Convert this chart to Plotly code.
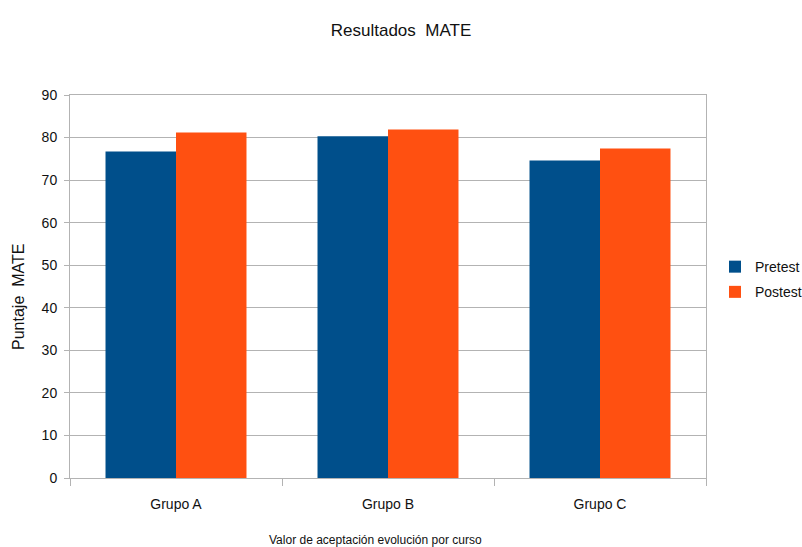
import plotly.graph_objects as go

categories = ["Grupo A", "Grupo B", "Grupo C"]
pretest = [76.7, 80.3, 74.6]
postest = [81.2, 81.9, 77.4]
series_names = ["Pretest", "Postest"]
colors = ["#004f8b", "#ff5011"]

FONT = "Liberation Sans, Arial, sans-serif"
TXT = "#111111"

fig = go.Figure()
fig.add_trace(go.Bar(name=series_names[0], x=categories, y=pretest, legendgroup="g1",
                     marker=dict(color=colors[0], line=dict(width=0))))
fig.add_trace(go.Bar(name=series_names[1], x=categories, y=postest, legendgroup="g2",
                     marker=dict(color=colors[1], line=dict(width=0))))

fig.update_layout(
    width=802, height=547,
    margin=dict(l=70, r=96, t=95, b=69, autoexpand=False),
    paper_bgcolor="white", plot_bgcolor="white",
    barmode="group", bargap=0.335, bargroupgap=0,
    font=dict(family=FONT, size=14, color=TXT),
    title=dict(text="Resultados  MATE", x=0.5, xref="container", xanchor="center",
               y=1 - 30 / 547, yref="container", yanchor="middle",
               font=dict(family=FONT, size=17, color=TXT)),
    showlegend=True,
    legend=dict(x=(715 - 70) / 636, xanchor="left", y=(478.3 - 251) / 383.6, yanchor="top",
                font=dict(family=FONT, size=14, color=TXT),
                bgcolor="rgba(0,0,0,0)", itemclick=False, tracegroupgap=4),
    xaxis=dict(showline=True, linecolor="#b3b3b3", linewidth=1, mirror=True,
               tickson="boundaries", ticks="outside", ticklen=7, tickcolor="#b3b3b3",
               ticklabelstandoff=13,
               showgrid=False, tickfont=dict(family=FONT, size=14, color=TXT)),
    yaxis=dict(range=[0, 90], dtick=10, showline=True, linecolor="#b3b3b3", linewidth=1,
               mirror=True, ticks="outside", ticklen=5, tickcolor="#b3b3b3",
               ticklabelstandoff=4,
               showgrid=True, gridcolor="#b3b3b3", gridwidth=1, zeroline=False,
               tickfont=dict(family=FONT, size=14, color=TXT)),
    annotations=[
        dict(text="Puntaje  MATE", textangle=-90, xref="paper", yref="paper",
             x=-51 / 636, y=(478.3 - 297) / 383.6, xanchor="center", yanchor="middle",
             showarrow=False, font=dict(family=FONT, size=16, color=TXT)),
        dict(text="Valor de aceptación evolución por curso", xref="paper", yref="paper",
             x=(375 - 70) / 636, y=-(540 - 478.3) / 383.6, xanchor="center", yanchor="middle",
             showarrow=False, font=dict(family=FONT, size=12, color=TXT)),
    ],
)

fig.write_html("out.html", config={"displayModeBar": False},
               post_script="document.body.style.margin='0';document.body.style.padding='0';"
                           "window.dispatchEvent(new Event('resize'));")
